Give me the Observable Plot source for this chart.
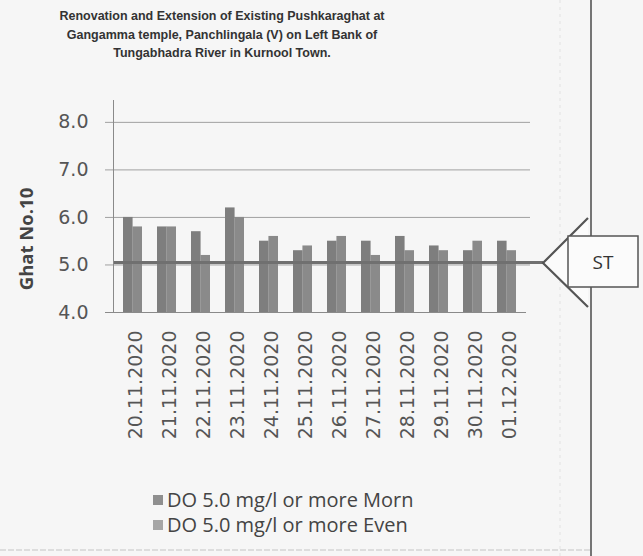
<!DOCTYPE html>
<html>
<head>
<meta charset="utf-8">
<script src="https://cdn.jsdelivr.net/npm/d3@7"></script>
<script src="https://cdn.jsdelivr.net/npm/@observablehq/plot@0.6"></script>
<style>
  html, body { margin: 0; padding: 0; background: #f6f6f6; }
  #wrap { position: relative; width: 643px; height: 556px; overflow: hidden; background: #f6f6f6; }
  #chart { position: absolute; left: 0; top: 0; }
  #title { position: absolute; left: 0; top: 7px; width: 444px; text-align: center;
           font-family: "Liberation Sans", sans-serif; font-weight: bold; font-size: 12.5px; line-height: 18.5px; color: #333; }
  #ytitle { position: absolute; left: 25px; top: 239px; transform: translate(-50%, -50%) rotate(-90deg);
            font-family: "Open Sans", sans-serif; font-weight: bold; font-size: 18.5px; color: #444; white-space: nowrap; }
  .leg { position: absolute; left: 153px; font-family: "Open Sans", sans-serif; font-size: 20px; color: #444; white-space: nowrap; display: flex; align-items: center; }
  .sw { display: inline-block; width: 10px; height: 10px; margin-right: 4px; }
  #deco { position: absolute; left: 0; top: 0; }
</style>
</head>
<body>
<div id="wrap">
  <div id="chart"></div>
  <div id="title"></div>
  <div id="ytitle"></div>
  <div id="legend"></div>
  <svg id="deco" width="643" height="556">
    <line x1="560" y1="0" x2="560" y2="556" stroke="#e2e2e2" stroke-dasharray="3,4"/>
    <line x1="0" y1="550" x2="590" y2="550" stroke="#c4c4c4" stroke-dasharray="6,2"/>
    <line x1="591" y1="0" x2="591" y2="556" stroke="#555" stroke-width="1.6"/>
    <path d="M588,218 L543,263 L588,307" fill="#fbfbfb" stroke="#555" stroke-width="2.2"/>
    <rect x="568" y="236" width="70" height="51" fill="#fbfbfb" stroke="#555" stroke-width="1.5"/>
    <text x="603" y="269" text-anchor="middle" font-family="Open Sans, sans-serif" font-size="19" fill="#333">ST</text>
  </svg>
</div>
<script>
const titleLines = [
  "Renovation and Extension of Existing Pushkaraghat at",
  "Gangamma temple, Panchlingala (V) on Left Bank of",
  "Tungabhadra River in Kurnool Town."
];
const yTitle = "Ghat No.10";
const dates = ["20.11.2020","21.11.2020","22.11.2020","23.11.2020","24.11.2020","25.11.2020",
               "26.11.2020","27.11.2020","28.11.2020","29.11.2020","30.11.2020","01.12.2020"];
const morn = [6.0, 5.8, 5.7, 6.2, 5.5, 5.3, 5.5, 5.5, 5.6, 5.4, 5.3, 5.5];
const even = [5.8, 5.8, 5.2, 6.0, 5.6, 5.4, 5.6, 5.2, 5.3, 5.3, 5.5, 5.3];
const seriesNames = ["DO 5.0 mg/l or more Morn", "DO 5.0 mg/l or more Even"];
const seriesColors = ["#7e7e7e", "#8a8a8a"];
const swatchColors = ["#8f8f8f", "#a6a6a6"];
const yTicks = [4, 5, 6, 7, 8];
const gridTicks = [5, 6, 7, 8];
const yMin = 4, yMax = 8.46;
const standard = 5.05;

const rows = dates.map((d, i) => ({date: d, morn: morn[i], even: even[i]}));

document.getElementById("title").innerHTML = titleLines.join("<br>");
document.getElementById("ytitle").textContent = yTitle;
const leg = document.getElementById("legend");
seriesNames.forEach((name, i) => {
  const div = document.createElement("div");
  div.className = "leg";
  div.style.top = (486 + i * 25) + "px";
  div.innerHTML = `<span class="sw" style="background:${swatchColors[i]}"></span>${name}`;
  leg.appendChild(div);
});

const width = 643, height = 556;
const marginLeft = 113, marginRight = 117;
const padIn = 0.45, padOut = 0.25;
const step = (width - marginLeft - marginRight) / (dates.length - padIn + 2 * padOut);
const bw = step * (1 - padIn);

const chart = Plot.plot({
  width, height,
  marginLeft, marginRight, marginTop: 100, marginBottom: 244,
  style: {background: "transparent", overflow: "visible", color: "#8a8a8a"},
  x: {domain: dates, paddingInner: padIn, paddingOuter: padOut},
  y: {domain: [yMin, yMax]},
  marks: [
    Plot.ruleY(gridTicks, {stroke: "#a0a0a0", strokeWidth: 1, insetLeft: -8, insetRight: -4}),
    Plot.barY(rows, {x: "date", y1: yMin, y2: "morn", fill: seriesColors[0], insetRight: bw / 2}),
    Plot.barY(rows, {x: "date", y1: yMin, y2: "even", fill: seriesColors[1], insetLeft: bw / 2}),
    Plot.ruleY([standard], {stroke: "#707070", strokeWidth: 3, insetRight: -17}),
    Plot.ruleY([yMin], {stroke: "#8a8a8a", strokeWidth: 1, insetLeft: -8}),
    Plot.frame({anchor: "left", stroke: "#8a8a8a"}),
    Plot.axisY({ticks: yTicks, tickSize: 0, tickPadding: 25, tickFormat: d => d.toFixed(1), label: null,
                fill: "#555", fontSize: 19, fontFamily: "DejaVu Sans"}),
    Plot.axisX({tickSize: 0, tickPadding: 18, tickRotate: -90, label: null, dx: 3,
                fill: "#555", fontSize: 19, fontFamily: "DejaVu Sans"})
  ]
});
document.getElementById("chart").appendChild(chart);
</script>
</body>
</html>
